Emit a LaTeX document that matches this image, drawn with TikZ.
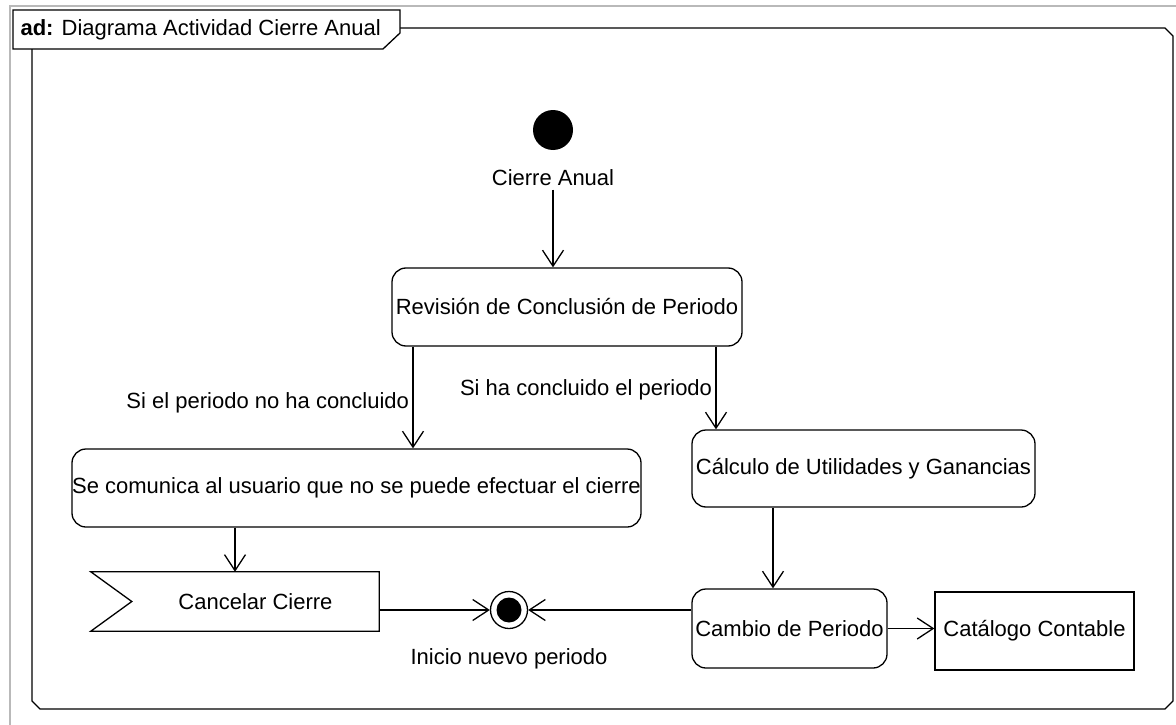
\documentclass[tikz,border=0pt]{standalone}
\usepackage{fontspec}
\setmainfont{Liberation Sans}
\usetikzlibrary{calc}
\usetikzlibrary{shapes,arrows.meta}

\begin{document}
\begin{tikzpicture}[x=1pt,y=-1pt]
     \tikzstyle{every node}=[font=\fontsize{22}{26}\selectfont]
     \tikzstyle{accion}=[draw, line width=1.3pt, rounded corners=14pt, inner sep=0pt]
     \tikzstyle{objeto}=[draw, line width=1.3pt, inner sep=0pt]
     \tikzstyle{flujo}=[line width=1.3pt, -{Straight Barb[length=16pt,width=21pt,line width=1.3pt]}]
   	  \pgfmathsetmacro\W{1176}
   	  \pgfmathsetmacro\H{725}
   	  \pgfmathsetmacro\ch{8}
      \useasboundingbox (0,0) rectangle (\W,\H);
      % frame
      \draw [gray!55, line width=1.5pt] (10,\H) -- (10,6) -- (\W,6);
      \draw [line width=1.3pt] (32+\ch,28) -- (1173-\ch,28) -- (1173,28+\ch) -- (1173,709-\ch)
            -- (1173-\ch,709) -- (32+\ch,709) -- (32,709-\ch) -- (32,28+\ch) -- cycle;
      \draw [line width=1.3pt, fill=white] (13,10) -- (400,10) -- (400,33) -- (383,49) -- (13,49) -- cycle;
      \node [anchor=west] (titulo) at (17,29.5) {\textbf{ad:} Diagrama Actividad Cierre Anual};
      % x positions of the flows
      \coordinate (xa) at (413,0);
      \coordinate (xb) at (716,0);
      \coordinate (xc) at (773,0);
      \coordinate (xd) at (235,0);
      % nodes
      \node [circle, fill=black, minimum size=40pt, inner sep=0pt] (inicio) at (553,130) {};
      \node (lblInicio) at (553,178) {Cierre Anual};
      \node [accion, minimum width=350pt, minimum height=78pt] (revision) at (567,307) {Revisión de Conclusión de Periodo};
      \node [accion, minimum width=569pt, minimum height=78pt] (comunica) at (356.5,488) {Se comunica al usuario que no se puede efectuar el cierre};
      \node [accion, minimum width=343pt, minimum height=77pt] (calculo) at (863.5,468.5) {Cálculo de Utilidades y Ganancias};
      \node [accion, minimum width=195pt, minimum height=79pt] (cambio) at (789.5,628.5) {Cambio de Periodo};
      \node [objeto, minimum width=199pt, minimum height=78pt] (catalogo) at (1034.5,631) {Catálogo Contable};
      \node [minimum width=247pt, minimum height=59pt, inner sep=0pt] (cancel) at (255.5,601.5) {Cancelar Cierre};
      \draw [line width=1.3pt] ($(cancel.north west)+(-41,0)$) -- (cancel.north east) -- (cancel.south east)
            -- ($(cancel.south west)+(-41,0)$) -- (cancel.west) -- cycle;
      \node [circle, draw, line width=1.3pt, minimum size=37pt, inner sep=0pt,
             path picture={\fill (path picture bounding box.center) circle (12.5pt);}] (fin) at (509,610) {};
      \node (lblFin) at (509,659) {Inicio nuevo periodo};
      % flows
      \draw [flujo] (lblInicio.south) -- (lblInicio.south |- revision.north);
      \draw [flujo] (revision.south -| xa) -- node[left, pos=0.55] (lblNo) {Si el periodo no ha concluido} (comunica.north -| xa);
      \draw [flujo] (revision.south -| xb) -- node[left, pos=0.52] (lblSi) {Si ha concluido el periodo} (calculo.north -| xb);
      \draw [flujo] (comunica.south -| xd) -- (cancel.north -| xd);
      \draw [flujo] (calculo.south -| xc) -- (cambio.north -| xc);
      \draw [flujo] (cancel.east |- fin) -- (fin);
      \draw [flujo] (cambio.west |- fin) -- (fin);
      \draw [flujo] (cambio.east) -- (cambio.east -| catalogo.west);
    \end{tikzpicture}
\end{document}
